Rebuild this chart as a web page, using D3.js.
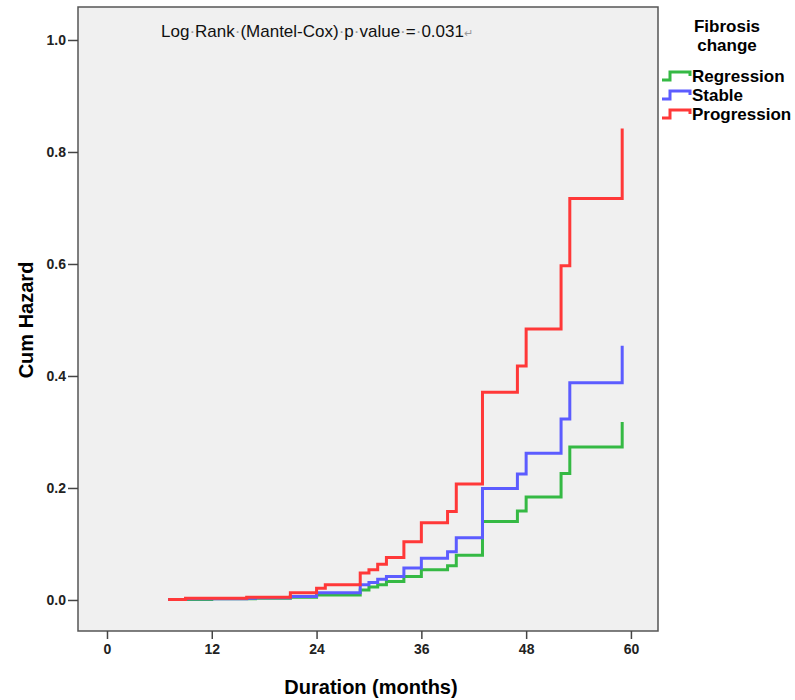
<!DOCTYPE html>
<html>
<head>
<meta charset="utf-8">
<script src="https://cdn.jsdelivr.net/npm/d3@7"></script>
<style>
	body { margin: 0; background: #fff; }
	text { font-family: "Liberation Sans", Arial, sans-serif; }
</style>
</head>
<body>
<div id="chart"></div>
<script>
// months, cumulative hazard (step starts)
var regression = [[7, 0.001], [12, 0.002], [17, 0.003], [21, 0.005], [24, 0.009], [29, 0.018], [30, 0.023], [31, 0.027], [32, 0.033], [34, 0.042], [36, 0.054], [39, 0.061], [40, 0.080], [43, 0.140], [47, 0.159], [48, 0.184], [52, 0.226], [53, 0.273], [59, 0.318]];
var stable = [[7, 0.001], [9, 0.002], [16, 0.003], [17, 0.004], [21, 0.006], [24, 0.013], [29, 0.027], [30, 0.031], [31, 0.037], [32, 0.042], [34, 0.057], [36, 0.0745], [39, 0.086], [40, 0.111], [43, 0.199], [47, 0.225], [48, 0.262], [52, 0.323], [53, 0.388], [59, 0.454]];
var progression = [[7, 0.001], [9, 0.003], [16, 0.005], [21, 0.013], [24, 0.021], [25, 0.027], [29, 0.048], [30, 0.054], [31, 0.064], [32, 0.076], [34, 0.104], [36, 0.138], [39, 0.158], [40, 0.207], [43, 0.371], [47, 0.418], [48, 0.484], [52, 0.597], [53, 0.717], [59, 0.842]];

var seriesNames = ["Regression", "Stable", "Progression"];
var seriesColors = ["#35b944", "#5c5cff", "#ff3838"];
var xTicks = [0, 12, 24, 36, 48, 60];
var yTicks = [0.0, 0.2, 0.4, 0.6, 0.8, 1.0];
var note = ["Log", "Rank", "(Mantel-Cox)", "p", "value", "=", "0.031"];

var svgWidth = 795,
	svgHeight = 700,
	plot = { left: 78, right: 658, top: 7, bottom: 631 },
	x = d3.scaleLinear().domain([-3.32, 63.1]).range([plot.left, plot.right]),
	y = d3.scaleLinear().domain([-0.0554, 1.0589]).range([plot.bottom, plot.top]);

var svg = d3.select("#chart")
	.append("svg")
	.attr("width", svgWidth)
	.attr("height", svgHeight);

svg.append("rect")
	.attr("x", plot.left)
	.attr("y", plot.top)
	.attr("width", plot.right - plot.left)
	.attr("height", plot.bottom - plot.top)
	.attr("fill", "#f0f0f0")
	.attr("stroke", "#555")
	.attr("stroke-width", 1.5);

// axes
var xAxis = svg.append("g")
	.attr("transform", "translate(0," + plot.bottom + ")")
	.call(d3.axisBottom(x).tickValues(xTicks).tickSize(8).tickPadding(5).tickSizeOuter(0));
var yAxis = svg.append("g")
	.attr("transform", "translate(" + plot.left + ",0)")
	.call(d3.axisLeft(y).tickValues(yTicks).tickSize(10).tickPadding(2).tickFormat(d3.format(".1f")).tickSizeOuter(0));

[xAxis, yAxis].forEach(function(g) {
	g.select(".domain").remove();
	g.selectAll(".tick line").attr("stroke", "#444").attr("stroke-width", 1.5);
	g.selectAll(".tick text")
		.attr("fill", "#222")
		.style("font-size", "14px")
		.style("font-weight", "bold");
});

svg.append("text")
	.attr("x", (plot.left + plot.right) / 2 + 3)
	.attr("y", 694)
	.attr("text-anchor", "middle")
	.style("font-size", "20px")
	.style("font-weight", "bold")
	.text("Duration (months)");

svg.append("text")
	.attr("transform", "translate(33,320) rotate(-90)")
	.attr("text-anchor", "middle")
	.style("font-size", "20px")
	.style("font-weight", "bold")
	.text("Cum Hazard");

// curves
var line = d3.line()
	.x(function(d) { return x(d[0]); })
	.y(function(d) { return y(d[1]); })
	.curve(d3.curveStepAfter);

[regression, stable, progression].forEach(function(data, i) {
	svg.append("path")
		.datum(data)
		.attr("fill", "none")
		.attr("stroke", seriesColors[i])
		.attr("stroke-width", 3)
		.attr("d", line);
});

// p value note, with word-processor marks
var noteText = svg.append("text")
	.attr("x", 161)
	.attr("y", 37)
	.style("font-size", "17px")
	.attr("fill", "#111");
note.forEach(function(w, i) {
	noteText.append("tspan").text(w);
	noteText.append("tspan")
		.attr("fill", "#999")
		.style("font-size", i < note.length - 1 ? "17px" : "11px")
		.text(i < note.length - 1 ? "\u00b7" : "\u21b5");
});

// legend
svg.append("text")
	.attr("text-anchor", "middle")
	.style("font-size", "17px")
	.style("font-weight", "bold")
	.selectAll("tspan")
	.data(["Fibrosis", "change"])
	.enter()
	.append("tspan")
	.attr("x", 727)
	.attr("y", function(d, i) { return 32 + i * 19; })
	.text(function(d) { return d; });

var legend = svg.selectAll(".legend")
	.data(seriesNames)
	.enter()
	.append("g")
	.attr("class", "legend")
	.attr("transform", function(d, i) { return "translate(662," + (76 + i * 19) + ")"; });

legend.append("path")
	.attr("d", "M0,4H8V-4H28V0")
	.attr("fill", "none")
	.attr("stroke", function(d, i) { return seriesColors[i]; })
	.attr("stroke-width", 3);

legend.append("text")
	.attr("x", 30)
	.attr("y", 6)
	.style("font-size", "17px")
	.style("font-weight", "bold")
	.text(function(d) { return d; });
</script>
</body>
</html>
